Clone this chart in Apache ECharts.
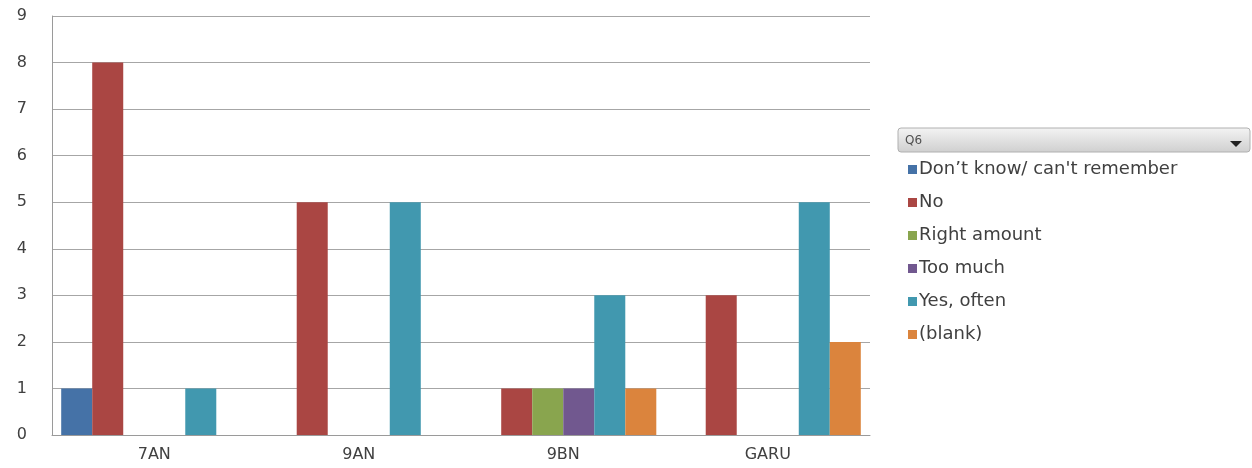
<!DOCTYPE html>
<html>
<head>
<meta charset="utf-8">
<script src="https://cdn.jsdelivr.net/npm/echarts@6/dist/echarts.min.js"></script>
<style>html,body{margin:0;padding:0;background:#fff}#c{width:1252px;height:468px}</style>
</head>
<body>
<div id="c"></div>
<script>
const categories = ['7AN', '9AN', '9BN', 'GARU'];
const seriesNames = ["Don\u2019t know/ can't remember", 'No', 'Right amount', 'Too much', 'Yes, often', '(blank)'];
const dontKnow = [1, null, null, null];
const no = [8, 5, 1, 3];
const rightAmount = [null, null, 1, null];
const tooMuch = [null, null, 1, null];
const yesOften = [1, 5, 3, 5];
const blank = [null, null, 1, 2];
const colors = ['#4572A7', '#AA4643', '#89A54E', '#71588F', '#4198AF', '#DB843D'];
const values = [dontKnow, no, rightAmount, tooMuch, yesOften, blank];

const font = 'DejaVu Sans, sans-serif';
const chart = echarts.init(document.getElementById('c'));
chart.setOption({
  animation: false,
  color: colors,
  grid: { left: 52, right: 382, top: 16, bottom: 33 },
  xAxis: {
    type: 'category', data: categories,
    axisLine: { lineStyle: { color: '#9a9a9a', width: 1 } },
    axisTick: { show: false },
    axisLabel: { color: '#404040', fontSize: 16, fontFamily: font, margin: 12 }
  },
  yAxis: {
    type: 'value', min: 0, max: 9, interval: 1,
    axisLine: { show: true, lineStyle: { color: '#9a9a9a' } },
    axisTick: { show: false },
    splitLine: { lineStyle: { color: '#a6a6a6' } },
    axisLabel: { color: '#404040', fontSize: 16, fontFamily: font, margin: 25 }
  },
  legend: {
    orient: 'vertical', left: 903, top: 155,
    icon: 'rect', itemWidth: 9, itemHeight: 9, itemGap: 14,
    textStyle: { color: '#404040', fontSize: 18, fontFamily: font, lineHeight: 19, padding: [0, 0, 0, -3] },
    data: seriesNames
  },
  graphic: [
    { type: 'rect', shape: { x: 898, y: 128, width: 352, height: 24, r: 3 },
      style: { fill: new echarts.graphic.LinearGradient(0, 0, 0, 1, [{offset: 0, color: '#f4f4f4'}, {offset: 1, color: '#cfcfcf'}]), stroke: '#b0b0b0', lineWidth: 1 } },
    { type: 'text', x: 905, y: 141, style: { text: 'Q6', fontSize: 12, fontFamily: font, fill: '#505050', verticalAlign: 'middle' } },
    { type: 'polygon', shape: { points: [[1230, 141], [1242, 141], [1236, 147]] }, style: { fill: '#222' } }
  ],
  series: seriesNames.map((n, i) => ({
    name: n, type: 'bar', data: values[i],
    barGap: '0%', barCategoryGap: '9%'
  }))
});
</script>
</body>
</html>
